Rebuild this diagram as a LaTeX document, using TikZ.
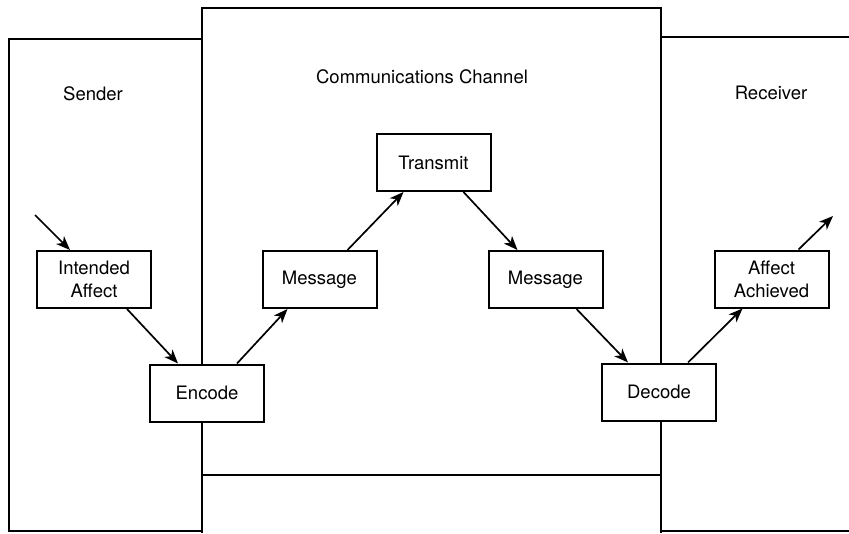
\documentclass[tikz,border=0pt]{standalone}
\usepackage{fontspec}
\setmainfont{TeX Gyre Heros}
\usetikzlibrary{arrows.meta}
\newcommand\stagefont{\fontsize{18.5}{23}\selectfont}
\begin{document}
\begin{tikzpicture}[x=1pt,y=-1pt,
  frame/.style={line width=2pt,line join=miter},
  stage/.style={draw,fill=white,line width=2pt,minimum width=114pt,
    minimum height=57pt,inner sep=0pt,align=center,font=\stagefont},
  heading/.style={font=\stagefont,inner sep=0pt},
  flow/.style={line width=1.7pt,-{Stealth[length=14pt,width=11pt,inset=4pt]}}]
\useasboundingbox (0,0) rectangle (849,533);

% Sender, channel and receiver regions
\draw[frame] (202,39) -- (9,39) -- (9,531) -- (202,531);
\draw[frame] (202,533) -- (202,8) -- (661,8) -- (661,533);
\draw[frame] (202,475) -- (661,475);
\draw[frame] (661,37) -- (849,37);
\draw[frame] (661,531) -- (849,531);

% Region headings
\node[heading] (hsend) at (93,94) {Sender};
\node[heading] (hchan) at (422,77) {Communications Channel};
\node[heading] (hrecv) at (771,93) {Receiver};

% Stages of the communication
\node[stage] (ia)   at (94,279.5)  {Intended\\Affect};
\node[stage] (enc)  at (207,393)   {Encode};
\node[stage] (msg1) at (319.5,279.5) {Message};
\node[stage] (tx)   at (433.5,162.5) {Transmit};
\node[stage] (msg2) at (545.5,279.5) {Message};
\node[stage] (dec)  at (659,392)   {Decode};
\node[stage] (aa)   at (771.5,279) {Affect\\Achieved};

% Free ends of the incoming and outgoing arrows
\coordinate (in)  at (35,215);
\coordinate (out) at (833,216);

% Flow between the stages
\draw[flow] (in) -- ([xshift=-24pt]ia.north);
\draw[flow] ([xshift=33pt]ia.south) -- ([xshift=-29pt]enc.north);
\draw[flow] ([xshift=30pt]enc.north) -- ([xshift=-32pt]msg1.south);
\draw[flow] ([xshift=28pt]msg1.north) -- ([xshift=-30pt]tx.south);
\draw[flow] ([xshift=30pt]tx.south) -- ([xshift=-28pt]msg2.north);
\draw[flow] ([xshift=31pt]msg2.south) -- ([xshift=-31pt]dec.north);
\draw[flow] ([xshift=29pt]dec.north) -- ([xshift=-29pt]aa.south);
\draw[flow] ([xshift=27pt]aa.north) -- (out);
\end{tikzpicture}
\end{document}
